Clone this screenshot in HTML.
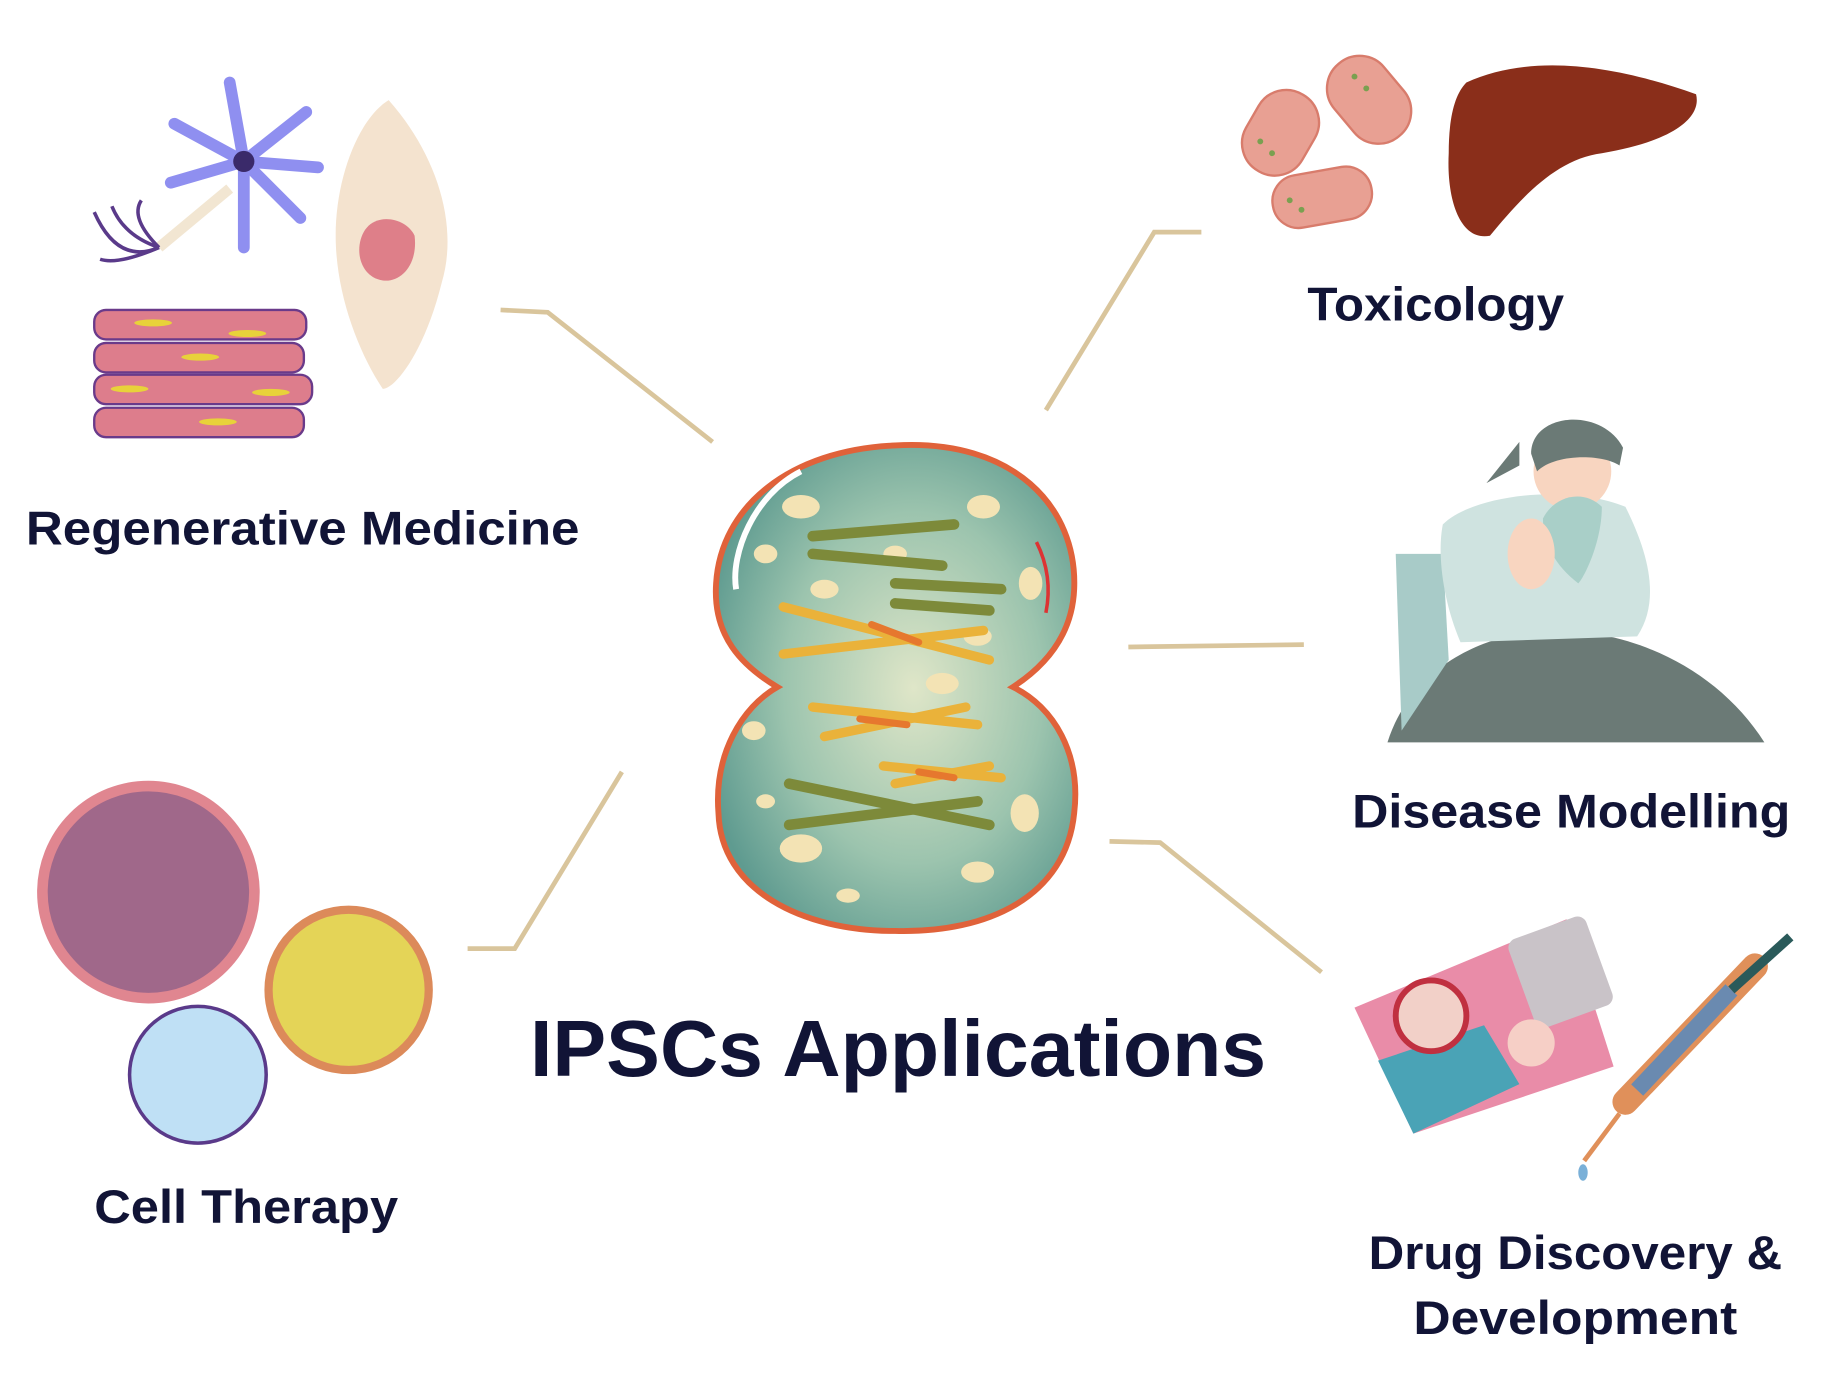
<!DOCTYPE html>
<html><head><meta charset="utf-8"><style>
html,body{margin:0;padding:0;background:#fff;}
svg{display:block;}
text{font-family:"Liberation Sans",sans-serif;font-weight:bold;fill:#111436;}
</style></head><body>
<svg width="1848" height="1400" viewBox="0 0 1569 1188" preserveAspectRatio="none" xmlns="http://www.w3.org/2000/svg">
<defs>
<radialGradient id="cg" cx="0.55" cy="0.5" r="0.6">
<stop offset="0" stop-color="#dfe6c8"/><stop offset="0.6" stop-color="#9cc4ae"/><stop offset="1" stop-color="#5f9b90"/>
</radialGradient>
</defs>
<g fill="none" stroke="#d9c59c" stroke-width="4">
<polyline points="425,263 465,265 605,375"/>
<polyline points="1020,197 980,197 888,348"/>
<polyline points="958,549 1107,547"/>
<polyline points="942,714 985,715 1122,825"/>
<polyline points="528,655 437,805 397,805"/>
</g>
<g>
<path d="M760,378 C860,372 915,430 912,500 C910,545 880,570 860,583 C895,600 918,640 912,690 C905,760 840,792 760,790 C680,790 612,755 610,690 C606,640 630,600 660,583 C630,565 605,540 608,495 C612,430 670,382 760,378 Z" fill="url(#cg)" stroke="#e0623a" stroke-width="5"/>
<g fill="#f3e3b4">
<ellipse cx="680" cy="430" rx="16" ry="10"/><ellipse cx="650" cy="470" rx="10" ry="8"/><ellipse cx="700" cy="500" rx="12" ry="8"/>
<ellipse cx="835" cy="430" rx="14" ry="10"/><ellipse cx="875" cy="495" rx="10" ry="14"/><ellipse cx="830" cy="540" rx="12" ry="8"/>
<ellipse cx="640" cy="620" rx="10" ry="8"/><ellipse cx="680" cy="720" rx="18" ry="12"/><ellipse cx="870" cy="690" rx="12" ry="16"/>
<ellipse cx="830" cy="740" rx="14" ry="9"/><ellipse cx="760" cy="470" rx="10" ry="7"/><ellipse cx="720" cy="760" rx="10" ry="6"/>
<ellipse cx="800" cy="580" rx="14" ry="9"/><ellipse cx="650" cy="680" rx="8" ry="6"/>
</g>
<g stroke-linecap="round" fill="none">
<g stroke="#7d8a3a" stroke-width="9"><line x1="690" y1="455" x2="810" y2="445"/><line x1="690" y1="470" x2="800" y2="480"/><line x1="760" y1="495" x2="850" y2="500"/><line x1="760" y1="512" x2="840" y2="518"/><line x1="670" y1="665" x2="840" y2="700"/><line x1="670" y1="700" x2="830" y2="680"/></g>
<g stroke="#eab23a" stroke-width="8"><line x1="665" y1="515" x2="840" y2="560"/><line x1="665" y1="555" x2="835" y2="535"/><line x1="690" y1="600" x2="830" y2="615"/><line x1="700" y1="625" x2="820" y2="600"/><line x1="750" y1="650" x2="850" y2="660"/><line x1="760" y1="665" x2="840" y2="650"/></g>
<g stroke="#e6782e" stroke-width="6"><line x1="740" y1="530" x2="780" y2="545"/><line x1="730" y1="610" x2="770" y2="615"/><line x1="780" y1="655" x2="810" y2="660"/></g>
</g>
<path d="M625,500 C620,470 640,420 680,400" stroke="#fff" stroke-width="5" fill="none"/>
<path d="M880,460 C890,480 892,500 888,520" stroke="#d33" stroke-width="3" fill="none"/>
</g>
<g>
<g stroke="#8f8ff0" stroke-width="10" stroke-linecap="round" fill="#8f8ff0">
<line x1="207" y1="137" x2="195" y2="70"/><line x1="207" y1="137" x2="260" y2="95"/><line x1="207" y1="137" x2="270" y2="142"/><line x1="207" y1="137" x2="255" y2="185"/><line x1="207" y1="137" x2="207" y2="210"/><line x1="207" y1="137" x2="148" y2="105"/><line x1="207" y1="137" x2="145" y2="155"/>
</g>
<circle cx="207" cy="137" r="9" fill="#3a2a6a"/>
<path d="M195,160 L135,210" stroke="#f2e6d2" stroke-width="9"/>
<g stroke="#5a3a8a" stroke-width="3" fill="none"><path d="M135,210 Q100,225 80,180"/><path d="M135,210 Q105,200 95,175"/><path d="M135,210 Q110,185 120,170"/><path d="M135,210 Q100,225 85,220"/></g>
<path d="M330,85 C370,130 390,190 375,240 C360,300 335,330 325,330 C305,300 285,250 285,200 C285,150 305,100 330,85Z" fill="#f4e3cf"/>
<path d="M310,195 C320,180 345,185 352,200 C355,225 340,240 325,238 C305,235 300,210 310,195Z" fill="#de7f89"/>
<g fill="#dd7d8c" stroke="#6a3a8a" stroke-width="2">
<rect x="80" y="263" width="180" height="25" rx="10"/><rect x="80" y="291" width="178" height="25" rx="10"/><rect x="80" y="318" width="185" height="25" rx="10"/><rect x="80" y="346" width="178" height="25" rx="10"/>
</g>
<g fill="#e8d23a"><ellipse cx="130" cy="274" rx="16" ry="3"/><ellipse cx="210" cy="283" rx="16" ry="3"/><ellipse cx="170" cy="303" rx="16" ry="3"/><ellipse cx="110" cy="330" rx="16" ry="3"/><ellipse cx="230" cy="333" rx="16" ry="3"/><ellipse cx="185" cy="358" rx="16" ry="3"/></g>
</g>
<text x="22" y="462" font-size="40" textLength="470" lengthAdjust="spacingAndGlyphs">Regenerative Medicine</text>
<g fill="#e8a093" stroke="#d87c6c" stroke-width="2">
<rect x="1060" y="75" width="55" height="75" rx="27" transform="rotate(30 1087 112)"/>
<rect x="1135" y="45" width="55" height="80" rx="27" transform="rotate(-40 1162 85)"/>
<rect x="1080" y="145" width="85" height="45" rx="22" transform="rotate(-10 1122 167)"/>
</g>
<g fill="#7aa050"><circle cx="1070" cy="120" r="2.5"/><circle cx="1080" cy="130" r="2.5"/><circle cx="1150" cy="65" r="2.5"/><circle cx="1160" cy="75" r="2.5"/><circle cx="1095" cy="170" r="2.5"/><circle cx="1105" cy="178" r="2.5"/></g>
<path d="M1245,70 C1300,45 1370,55 1440,80 C1445,100 1420,120 1360,130 C1320,135 1290,170 1265,200 C1240,205 1228,170 1230,130 C1230,100 1235,80 1245,70Z" fill="#8a2e1a"/>
<text x="1110" y="272" font-size="40" textLength="218" lengthAdjust="spacingAndGlyphs">Toxicology</text>
<g>
<path d="M1178,630 C1200,560 1270,535 1320,535 C1390,535 1460,570 1498,630Z" fill="#6b7a76"/>
<path d="M1185,470 L1225,470 L1230,560 L1190,620 Z" fill="#a8cbc8"/>
<path d="M1225,445 C1250,420 1330,410 1380,430 C1400,470 1410,510 1390,540 L1240,545 C1225,510 1220,470 1225,445Z" fill="#cfe3e0"/>
<circle cx="1335" cy="400" r="33" fill="#f8d5c0"/>
<path d="M1300,385 C1300,350 1360,345 1378,380 L1375,395 C1360,385 1320,385 1305,400Z" fill="#6b7a76"/>
<path d="M1290,375 L1262,410 L1290,395Z" fill="#6b7a76"/>
<path d="M1310,440 C1320,420 1345,415 1360,430 C1360,460 1345,490 1340,495 C1320,480 1310,460 1310,440Z" fill="#a9cfc8"/>
<ellipse cx="1300" cy="470" rx="20" ry="30" fill="#f8d5c0"/>
</g>
<text x="1148" y="702" font-size="40" textLength="372" lengthAdjust="spacingAndGlyphs">Disease Modelling</text>
<circle cx="126" cy="757" r="90" fill="#a0688a" stroke="#e08690" stroke-width="9"/>
<circle cx="296" cy="840" r="68" fill="#e4d457" stroke="#dc8a5a" stroke-width="7"/>
<circle cx="168" cy="912" r="58" fill="#bfe0f5" stroke="#5a3a8a" stroke-width="3"/>
<text x="80" y="1038" font-size="40" textLength="258" lengthAdjust="spacingAndGlyphs">Cell Therapy</text>
<g>
<path d="M1150,855 L1330,780 L1370,905 L1200,962 Z" fill="#e98ca8"/>
<path d="M1170,900 L1260,870 L1290,920 L1200,962 Z" fill="#4aa3b6"/>
<circle cx="1215" cy="862" r="30" fill="#f2d0c8" stroke="#c03040" stroke-width="5"/>
<rect x="1290" y="785" width="70" height="80" rx="8" fill="#c9c3c8" transform="rotate(-20 1325 825)"/>
<circle cx="1300" cy="885" r="20" fill="#f6cfc6"/>
<path d="M1380,935 L1490,820" stroke="#e0905a" stroke-width="22" stroke-linecap="round"/>
<path d="M1390,925 L1470,840" stroke="#6a8ab0" stroke-width="14"/>
<path d="M1470,840 L1520,795" stroke="#2a5a5a" stroke-width="8"/>
<path d="M1375,945 L1345,985" stroke="#e0905a" stroke-width="4"/>
<ellipse cx="1344" cy="995" rx="4" ry="7" fill="#7ab0d8"/>
</g>
<text x="1162" y="1077" font-size="40" textLength="351" lengthAdjust="spacingAndGlyphs">Drug Discovery &amp;</text>
<text x="1200" y="1132" font-size="40" textLength="275" lengthAdjust="spacingAndGlyphs">Development</text>
<text x="450" y="913" font-size="68" textLength="625" lengthAdjust="spacingAndGlyphs">IPSCs Applications</text>
</svg>
</body></html>
